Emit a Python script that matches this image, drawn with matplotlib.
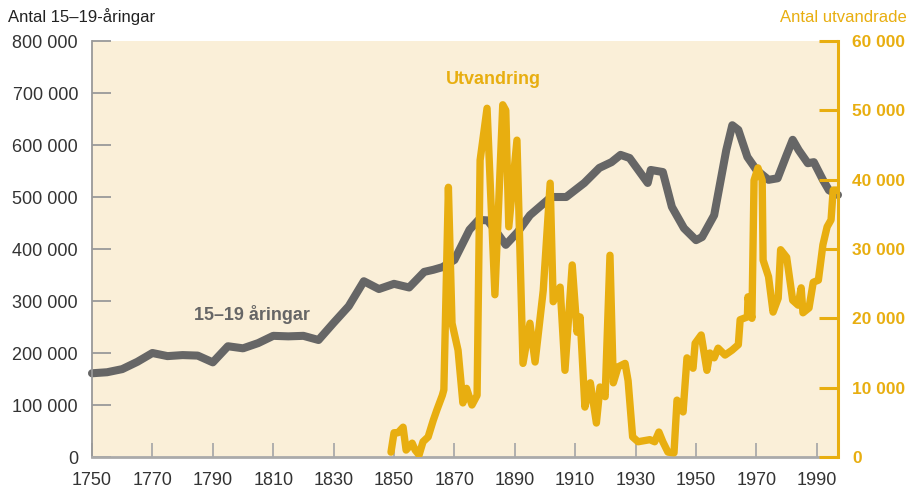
import numpy as np
import matplotlib
matplotlib.use('Agg')
import matplotlib.pyplot as plt
from matplotlib.ticker import FuncFormatter

plt.rcParams['font.family'] = ['Liberation Sans', 'DejaVu Sans']

# antal 15-19-åringar
pop_years = [1750, 1755, 1760, 1765, 1770, 1775, 1780, 1785, 1790, 1795, 1800, 1805,
             1810, 1815, 1820, 1825, 1830, 1835, 1840, 1845, 1850, 1855, 1860, 1863,
             1866, 1870, 1875, 1878, 1881, 1884, 1887, 1891, 1895, 1899, 1902, 1907,
             1913, 1918, 1922, 1925, 1928, 1934, 1935, 1939, 1942, 1946, 1950, 1952,
             1956, 1960, 1962, 1964, 1967, 1970, 1974, 1977, 1980, 1982, 1984, 1987,
             1989, 1992, 1994, 1997]
pop_vals = [161000, 163000, 169000, 183000, 200000, 194000, 196000, 195000, 182000,
            213000, 209000, 219000, 233000, 232000, 233000, 225000, 258000, 290000,
            338000, 323000, 333000, 326000, 356000, 360000, 365000, 379000, 437000,
            456000, 455000, 432000, 408000, 433000, 465000, 485000, 500000, 500000,
            527000, 556000, 567000, 581000, 575000, 527000, 552000, 548000, 481000,
            440000, 417000, 423000, 465000, 590000, 638000, 629000, 577000, 552000,
            533000, 536000, 581000, 610000, 590000, 565000, 567000, 533000, 513000,
            504000]

# antal utvandrade
emi_years = [1849, 1850, 1851.3, 1853, 1854, 1856, 1857, 1858.3, 1859.6, 1861.3, 1863,
             1864.2, 1866, 1866.5, 1868, 1869.2, 1871.2, 1872.8, 1874, 1875.8, 1877.5,
             1878.5, 1880.8, 1883.4, 1886, 1887, 1888, 1890.7, 1892.7, 1895, 1896.7,
             1899.4, 1901.7, 1902.7, 1905, 1906.6, 1909, 1910.6, 1911.6, 1913.2, 1915,
             1917, 1918.2, 1919.9, 1921.5, 1922.6, 1924.2, 1926.5, 1927.5, 1929, 1930.8,
             1934.7, 1936.3, 1937.7, 1939, 1940.7, 1942.7, 1943.7, 1945.7, 1947, 1949,
             1949.7, 1951.7, 1953.6, 1954.6, 1956, 1957.3, 1959.6, 1961.9, 1964, 1964.6,
             1967, 1967.2, 1968.5, 1969.2, 1970.5, 1971.9, 1972.2, 1974, 1975.5, 1977.2,
             1978, 1980, 1982, 1983.8, 1984.8, 1985.4, 1987.4, 1988.8, 1990.5, 1992,
             1993.4, 1994.7, 1995.4, 1996.6]
emi_vals = [700, 3500, 3500, 4300, 1000, 2000, 1000, 300, 2200, 2900, 5300,
            6800, 8900, 9700, 38900, 19300, 15400, 7800, 9900, 7500, 8900,
            42800, 50300, 23400, 50800, 50000, 33200, 45700, 13500, 19300, 13700,
            24000, 39500, 22400, 24500, 12500, 27700, 18000, 20200, 7200, 10700,
            4900, 10100, 8700, 29100, 10700, 13000, 13500, 11000, 2900, 2200,
            2500, 2200, 3600, 2200, 700, 600, 8200, 6500, 14300, 12800,
            16400, 17600, 12500, 15000, 14300, 15700, 14700, 15400, 16200, 19800,
            20200, 23100, 20000, 39900, 41700, 39900, 28400, 26000, 20900, 22900,
            29900, 28800, 22600, 21900, 24400, 20800, 21500, 25200, 25500, 30600,
            33200, 34200, 38500, 38500]

xticks = list(range(1750, 1991, 20))

ORANGE = '#E8AE10'
GREY = '#666666'
BG = '#FAEFD8'

fig = plt.figure(figsize=(9.15, 4.9), dpi=100)
ax = fig.add_axes([92 / 915, 33 / 490, (838 - 92) / 915, (457 - 41) / 490])
ax.set_facecolor(BG)
ax2 = ax.twinx()
ax2.patch.set_visible(False)

ax.plot(pop_years, pop_vals, color=GREY, lw=5.8, solid_joinstyle='round',
        solid_capstyle='round', clip_on=False)
ax2.plot(emi_years, emi_vals, color=ORANGE, lw=5.3, solid_joinstyle='round',
         solid_capstyle='round')

ax.set_xlim(1750, 1997)
ax.set_ylim(0, 800000)
ax2.set_ylim(0, 60000)

fmt = FuncFormatter(lambda v, p: '{:,.0f}'.format(v).replace(',', ' '))
ax.set_yticks(range(0, 800001, 100000))
ax.yaxis.set_major_formatter(fmt)
ax2.set_yticks(range(0, 60001, 10000))
ax2.yaxis.set_major_formatter(fmt)
ax.set_xticks(xticks)

ax.spines['top'].set_visible(False)
ax2.spines['top'].set_visible(False)
ax.spines['right'].set_visible(False)
ax2.spines['left'].set_visible(False)
ax2.spines['bottom'].set_visible(False)
ax.spines['left'].set_color('#999999')
ax.spines['left'].set_linewidth(1.3)
ax.spines['bottom'].set_color('#aaaaaa')
ax.spines['bottom'].set_linewidth(2)
ax2.spines['right'].set_color(ORANGE)
ax2.spines['right'].set_linewidth(2.2)

ax.tick_params(axis='y', direction='in', length=14, width=1.3, color='#999999',
               labelsize=13, labelcolor='#333333', pad=10)
ax.tick_params(axis='x', direction='in', length=10, width=1.3, color='#aaaaaa',
               labelsize=13, labelcolor='#333333', pad=11)
ax2.tick_params(axis='y', direction='in', length=14, width=2.2, color=ORANGE,
                labelsize=12.5, labelcolor=ORANGE, pad=10)
for t in ax2.get_yticklabels():
    t.set_fontweight('bold')

ax2.text(1882.8, 54400, 'Utvandring', color=ORANGE, fontsize=13, fontweight='bold',
         ha='center', va='center')
ax.text(1803, 275000, '15–19 åringar', color=GREY, fontsize=13, fontweight='bold',
        ha='center', va='center')

fig.text(8 / 915, 1 - 17 / 490, 'Antal 15–19-åringar', fontsize=12, color='#222222',
         ha='left', va='center')
fig.text(907 / 915, 1 - 17 / 490, 'Antal utvandrade', fontsize=12, color=ORANGE,
         ha='right', va='center')

fig.savefig('out.png', dpi=100)
